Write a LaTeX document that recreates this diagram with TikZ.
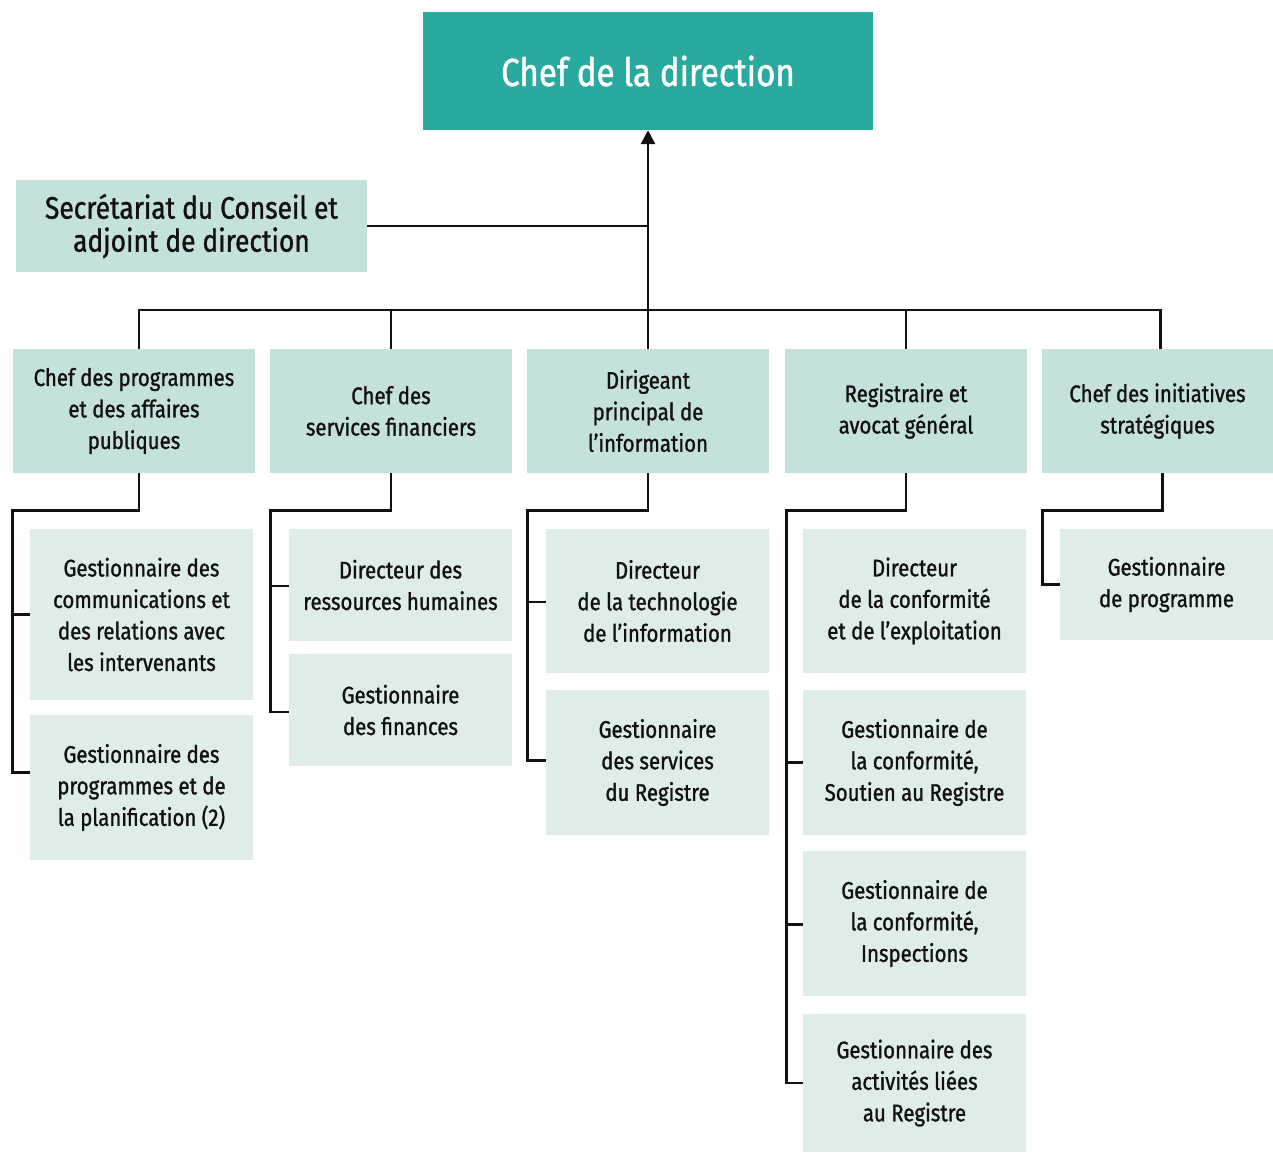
\documentclass[tikz,border=0pt]{standalone}
\usepackage{fontspec}
\setmainfont[FakeStretch=0.85,FakeBold=1.2]{Fira Sans}
\usetikzlibrary{arrows.meta}
\definecolor{teal1}{HTML}{2AAA9E}
\definecolor{mint}{HTML}{C5E1DC}
\definecolor{pale}{HTML}{DEEDEA}
\definecolor{ink}{HTML}{111111}
\begin{document}
\begin{tikzpicture}[x=1pt,y=-1pt,
  base/.style={inner sep=0pt, align=center, text=ink, font=\fontsize{24}{31.5}\selectfont},
  topbox/.style={base, fill=teal1, text=white, minimum width=450pt, minimum height=118pt, font=\fontsize{39}{44}\selectfont},
  secbox/.style={base, fill=mint, minimum width=351pt, minimum height=92pt, font=\fontsize{31}{33}\selectfont},
  headbox/.style={base, fill=mint, minimum width=242pt, minimum height=124pt},
  subbox/.style={base, fill=pale, minimum width=223pt},
  link/.style={draw=ink, line width=2.8pt},
]
\useasboundingbox (0,0) rectangle (1273,1153);

\node[topbox] (top) at (648,71) {Chef de la direction};
\node[secbox] (sec) at (191.5,226) {Secrétariat du Conseil et\\adjoint de direction};

\node[headbox] (h1) at (134,411) {Chef des programmes\\et des affaires\\publiques};
\node[headbox] (h2) at (391,411) {Chef des\\services financiers};
\node[headbox] (h3) at (648,411) {Dirigeant\\principal de\\l’information};
\node[headbox] (h4) at (906,411) {Registraire et\\avocat général};
\node[headbox, minimum width=231pt] (h5) at (1157.5,411) {Chef des initiatives\\stratégiques};

\node[subbox, minimum height=171pt] (a1) at (141.5,614.5) {Gestionnaire des\\communications et\\des relations avec\\les intervenants};
\node[subbox, minimum height=145pt] (b1) at (141.5,787.5) {Gestionnaire des\\programmes et de\\la planification (2)};

\node[subbox, minimum height=112pt] (a2) at (400.5,585) {Directeur des\\ressources humaines};
\node[subbox, minimum height=112pt] (b2) at (400.5,710) {Gestionnaire\\des finances};

\node[subbox, minimum height=144pt] (a3) at (657.5,601) {Directeur\\de la technologie\\de l’information};
\node[subbox, minimum height=145pt] (b3) at (657.5,762.5) {Gestionnaire\\des services\\du Registre};

\node[subbox, minimum height=144pt] (a4) at (914.5,601) {Directeur\\de la conformité\\et de l’exploitation};
\node[subbox, minimum height=145pt] (b4) at (914.5,762.5) {Gestionnaire de\\la conformité,\\Soutien au Registre};
\node[subbox, minimum height=145pt] (c4) at (914.5,923.5) {Gestionnaire de\\la conformité,\\Inspections};
\node[subbox, minimum height=138pt] (d4) at (914.5,1083) {Gestionnaire des\\activités liées\\au Registre};

\node[subbox, minimum width=213pt, minimum height=111pt] (a5) at (1166.5,584.5) {Gestionnaire\\de programme};

% top connectors
\coordinate (bus) at (648,310);
\draw[link, -{Triangle[width=14pt,length=14pt]}] (bus) -- (top.south);
\draw[link] (sec.east) -- (sec.east -| top.south);
\draw[link] ([xshift=5pt]h1.north) |- (bus) -| ([xshift=3pt]h5.north);
\draw[link] (h2.north) -- (h2.north |- bus);
\draw[link] (h3.north) -- (bus);
\draw[link] (h4.north) -- (h4.north |- bus);

% column 1
\draw[link] ([xshift=5pt]h1.south) -- ++(0,37) -| ([xshift=-17pt,yshift=15pt]b1.west) -- ([yshift=15pt]b1.west);
\draw[link] ([xshift=-17pt]a1.west) -- (a1.west);
% column 2
\draw[link] (h2.south) -- ++(0,37) -| ([xshift=-18pt,yshift=-2pt]b2.west) -- ([yshift=-2pt]b2.west);
\draw[link] ([xshift=-18pt,yshift=-1pt]a2.west) -- ([yshift=-1pt]a2.west);
% column 3
\draw[link] (h3.south) -- ++(0,37) -| ([xshift=-18pt,yshift=2pt]b3.west) -- ([yshift=2pt]b3.west);
\draw[link] ([xshift=-18pt,yshift=-1pt]a3.west) -- ([yshift=-1pt]a3.west);
% column 4
\draw[link] (h4.south) -- ++(0,37) -| ([xshift=-16pt]d4.west) -- (d4.west);
\draw[link] ([xshift=-16pt]b4.west) -- (b4.west);
\draw[link] ([xshift=-16pt,yshift=-1pt]c4.west) -- ([yshift=-1pt]c4.west);
% column 5
\draw[link] ([xshift=5pt]h5.south) -- ++(0,37) -| ([xshift=-17pt]a5.west) -- (a5.west);
\end{tikzpicture}
\end{document}
